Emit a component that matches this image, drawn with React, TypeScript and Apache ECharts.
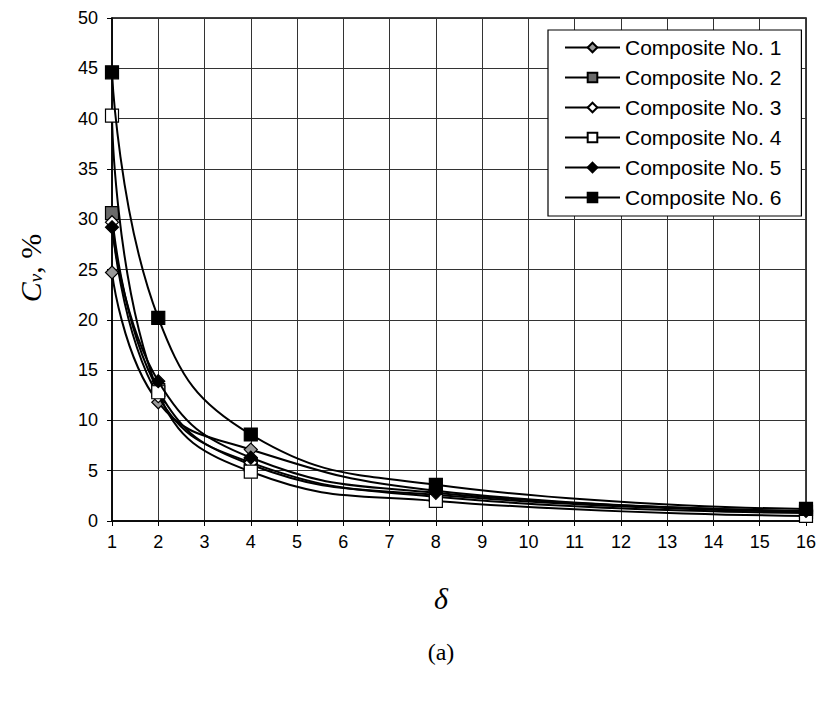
import React, { useEffect, useRef } from "react";
import * as echarts from "echarts";

const deltaValues = [1, 2, 4, 8, 16];
const seriesNames = [
  "Composite No. 1",
  "Composite No. 2",
  "Composite No. 3",
  "Composite No. 4",
  "Composite No. 5",
  "Composite No. 6",
];
const comp1 = [24.7, 11.8, 7.1, 3.0, 1.0];
const comp2 = [30.6, 13.0, 5.6, 2.6, 0.9];
const comp3 = [29.7, 12.4, 5.8, 2.4, 0.8];
const comp4 = [40.3, 12.8, 4.9, 2.0, 0.5];
const comp5 = [29.2, 13.9, 6.3, 2.8, 1.0];
const comp6 = [44.6, 20.2, 8.6, 3.6, 1.2];
const allValues = [comp1, comp2, comp3, comp4, comp5, comp6];

const markers = [
  { symbol: "diamond", fill: "#9a9a9a" },
  { symbol: "rect", fill: "#6a6a6a" },
  { symbol: "diamond", fill: "#ffffff" },
  { symbol: "rect", fill: "#ffffff" },
  { symbol: "diamond", fill: "#000000" },
  { symbol: "rect", fill: "#000000" },
];

export default function App() {
  const ref = useRef<HTMLDivElement>(null);
  useEffect(() => {
    document.body.style.margin = "0";
    const chart = echarts.init(ref.current!, null, { renderer: "svg" });
    const series = allValues.map((vals, i) => ({
      name: seriesNames[i],
      type: "line",
      smooth: 0.45,
      data: vals.map((v, j) => [deltaValues[j], v]),
      symbol: markers[i].symbol,
      symbolSize: 13,
      lineStyle: { color: "#000", width: 2 },
      itemStyle: { color: markers[i].fill, borderColor: "#000", borderWidth: 1.2 },
      z: 3 + i,
    }));
    chart.setOption({
      animation: false,
      backgroundColor: "#fff",
      grid: {
        left: 112,
        top: 18,
        right: 19,
        bottom: 182,
        show: true,
        borderColor: "#000",
        borderWidth: 1.5,
      },
      xAxis: {
        type: "value",
        min: 1,
        max: 16,
        interval: 1,
        axisLine: { show: true, lineStyle: { color: "#000", width: 1.5 } },
        axisTick: { show: true, length: 5, lineStyle: { color: "#000" } },
        axisLabel: {
          color: "#000",
          fontFamily: "Liberation Sans, Arial",
          fontSize: 18,
          margin: 12,
        },
        splitLine: { show: true, lineStyle: { color: "#333", width: 1 } },
      },
      yAxis: {
        type: "value",
        min: 0,
        max: 50,
        interval: 5,
        axisLine: { show: true, lineStyle: { color: "#000", width: 1.5 } },
        axisTick: { show: true, length: 5, lineStyle: { color: "#000" } },
        axisLabel: {
          color: "#000",
          fontFamily: "Liberation Sans, Arial",
          fontSize: 18,
          margin: 14,
        },
        splitLine: { show: true, lineStyle: { color: "#333", width: 1 } },
      },
      legend: {
        orient: "vertical",
        left: 548,
        top: 30,
        padding: [7, 20, 8, 16],
        itemGap: 9,
        itemWidth: 55,
        itemHeight: 12,
        backgroundColor: "#fff",
        borderColor: "#000",
        borderWidth: 1.2,
        textStyle: {
          color: "#000",
          fontFamily: "Liberation Sans, Arial",
          fontSize: 21,
        },
        data: seriesNames,
      },
      graphic: [
        {
          type: "text",
          x: 30,
          y: 268,
          rotation: Math.PI / 2,
          style: {
            text: "{c|C}{v|v}{p|, %}",
            align: "center",
            verticalAlign: "middle",
            rich: {
              c: { fontFamily: "Liberation Serif, Times New Roman", fontStyle: "italic", fontSize: 30, fill: "#000" },
              v: { fontFamily: "Liberation Serif, Times New Roman", fontStyle: "italic", fontSize: 19, fill: "#000", verticalAlign: "bottom", padding: [10, 0, 0, 0] },
              p: { fontFamily: "Liberation Serif, Times New Roman", fontSize: 30, fill: "#000" },
            },
          },
        },
        {
          type: "text",
          x: 441,
          y: 598,
          style: {
            text: "δ",
            align: "center",
            verticalAlign: "middle",
            fontFamily: "Liberation Serif, Times New Roman",
            fontStyle: "italic",
            fontSize: 30,
            fill: "#000",
          },
        },
        {
          type: "text",
          x: 441,
          y: 652,
          style: {
            text: "(a)",
            align: "center",
            verticalAlign: "middle",
            fontFamily: "Liberation Serif, Times New Roman",
            fontSize: 24,
            fill: "#000",
          },
        },
      ],
      series,
    });
    return () => chart.dispose();
  }, []);
  return <div ref={ref} style={{ width: 825, height: 703 }} />;
}
